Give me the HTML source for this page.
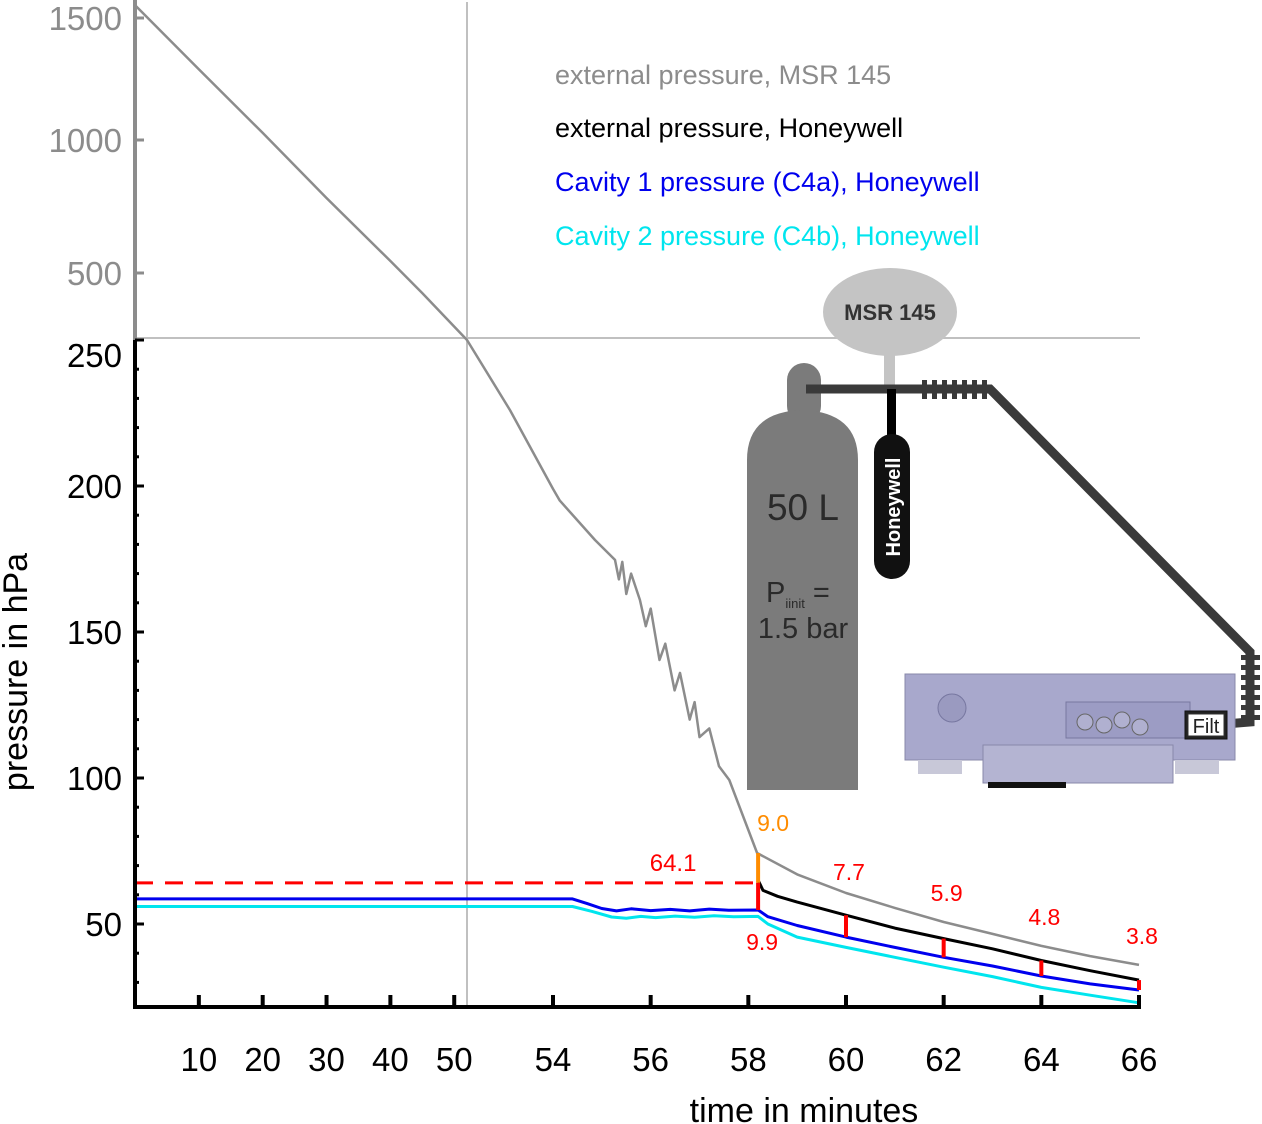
<!DOCTYPE html>
<html><head><meta charset="utf-8">
<style>
html,body{margin:0;padding:0;background:#fff;}
svg{display:block;font-family:"Liberation Sans",sans-serif;}
</style></head>
<body>
<svg id="chart" width="1262" height="1124" viewBox="0 0 1262 1124" xmlns="http://www.w3.org/2000/svg">
<g id="grid"></g>
<g id="diagram">
  <rect x="884" y="350" width="11" height="40" fill="#c4c4c4"/>
  <ellipse cx="890" cy="312" rx="67" ry="44" fill="#c4c4c4"/>
  <text x="890" y="320" font-size="22" font-weight="bold" fill="#333" text-anchor="middle">MSR 145</text>
  <rect x="787" y="363" width="34" height="60" rx="17" fill="#7b7b7b"/>
  <path d="M747,790 L747,460 Q747,412 802,410 Q858,412 858,460 L858,790 Z" fill="#7b7b7b"/>
  <text x="803" y="520" font-size="37" fill="#2a2a2a" text-anchor="middle">50 L</text>
  <text x="766" y="602" font-size="29" fill="#2a2a2a">P<tspan font-size="13" dy="6">iinit</tspan><tspan dy="-6" font-size="29"> =</tspan></text>
  <text x="803" y="638" font-size="29" fill="#2a2a2a" text-anchor="middle">1.5 bar</text>
  <path d="M806,389 L990,389 L1250,652 L1250,722 L1225,724" fill="none" stroke="#3a3a3a" stroke-width="9"/>
  <g id="serr"></g>
  <rect x="887" y="389" width="9" height="50" fill="#000"/>
  <rect x="874" y="434" width="36" height="145" rx="18" fill="#111"/>
  <text transform="translate(900,507) rotate(-90)" font-size="20" font-weight="bold" fill="#fff" text-anchor="middle">Honeywell</text>
  <g>
    <rect x="905" y="674" width="330" height="86" fill="#a8a8cc" stroke="#8888aa"/>
    <rect x="983" y="745" width="190" height="38" fill="#b4b4d2" stroke="#8888aa"/>
    <rect x="1066" y="702" width="124" height="36" fill="#9c9cc4" stroke="#7777a0"/>
    <circle cx="952" cy="708" r="14" fill="#9a9ac0" stroke="#7777a0"/>
    <circle cx="1085" cy="722" r="8" fill="#b0b0d0" stroke="#666"/><circle cx="1104" cy="725" r="8" fill="#b0b0d0" stroke="#666"/><circle cx="1122" cy="720" r="8" fill="#b0b0d0" stroke="#666"/><circle cx="1140" cy="727" r="8" fill="#b0b0d0" stroke="#666"/>
    <rect x="918" y="760" width="44" height="14" fill="#c8c8d8"/><rect x="1175" y="760" width="44" height="14" fill="#c8c8d8"/>
    <rect x="988" y="782" width="45" height="6" fill="#111"/><rect x="1028" y="782" width="38" height="6" fill="#111"/>
    <rect x="1185" y="711" width="42" height="28" fill="#222" stroke="#111"/>
    <rect x="1188" y="714" width="36" height="22" fill="#fff" stroke="#333"/>
    <text x="1206" y="733" font-size="20" fill="#222" text-anchor="middle">Filt</text>
  </g>
</g>
<g id="plot"></g>
<g id="axes"></g>
<g font-size="27">
  <text x="555" y="84" fill="#8c8c8c">external pressure, MSR 145</text>
  <text x="555" y="137" fill="#000">external pressure, Honeywell</text>
  <text x="555" y="191" fill="#0000ee">Cavity 1 pressure (C4a), Honeywell</text>
  <text x="555" y="245" fill="#00e5ee">Cavity 2 pressure (C4b), Honeywell</text>
</g>
<text transform="translate(27,672) rotate(-90)" font-size="34" text-anchor="middle">pressure in hPa</text>
<text x="804" y="1122" font-size="34" text-anchor="middle">time in minutes</text>
</svg>
<script>
// ---- data ----
const xTicks = [10,20,30,40,50,54,56,58,60,62,64,66];
const yTicksUpper = [500,1000,1500];
const yTicksLower = [50,100,150,200,250];
const msrTime = [0,10,20,30,40,45,52,53,54,54.14,54.86,55.27,55.35,55.42,55.5,55.6,55.78,55.9,56.0,56.18,56.3,56.49,56.6,56.8,56.9,57.0,57.2,57.4,57.61,58.18,59,60,61,62,63,64,65,66];
const msrValue = [1553,1290,1029,782,545,425,250,226,199,195,181.5,174.7,168,174,163,170,161,152,158,140.4,146,130,136,120,126,114,117,104,99.3,74.3,67,60.6,55.5,50.7,46.6,42.5,39,36];
const hwTime = [58.2,58.3,58.6,59,60,61,62,63,64,65,66];
const hwValue = [65,61.5,59.5,57.5,53,48.6,45,41.5,37.5,34,30.8];
const c1Time = [0,54.4,54.7,55,55.3,55.6,56,56.4,56.8,57.2,57.6,58.2,58.4,59,60,61,62,63,64,65,66];
const c1Value = [58.6,58.6,57,55.3,54.5,55.2,54.6,55,54.5,55.1,54.7,54.8,52.5,49.5,45.5,42,38.6,35.6,32.2,29.5,27.4];
const c2Time = [0,54.4,54.8,55.2,55.5,55.8,56.1,56.5,56.9,57.3,57.7,58.2,58.4,59,60,61,62,63,64,65,66];
const c2Value = [56,56,54.3,52.4,52,52.6,52.2,52.7,52.3,52.8,52.5,52.6,50,45.5,42,38.6,35.2,32,28.3,25.6,23];
const diffTime = [58.2,60,62,64,66];
const diffLabels = ["9.9","7.7","5.9","4.8","3.8"];
const refLevel = 64.1;
const orangeLabel = "9.0";

function xs(t){
  if(t<=52) return 135 + t*(332/52);
  if(t<=54) return 467 + (t-52)*43;
  return 553 + (t-54)*(586/12);
}
const uV=[250,500,1000,1500], uY=[340,273,140,18];
function ys(v){
  if(v<=250) return 924 - (v-50)*2.92;
  for(let i=0;i<3;i++){ if(v<=uV[i+1]||i==2){ return uY[i]+(v-uV[i])*(uY[i+1]-uY[i])/(uV[i+1]-uV[i]); } }
}
const NS="http://www.w3.org/2000/svg";
function mk(tag,attrs,parent){const e=document.createElementNS(NS,tag);for(const k in attrs)e.setAttribute(k,attrs[k]);parent.appendChild(e);return e;}
const plot=document.getElementById('plot'), axes=document.getElementById('axes'), grid=document.getElementById('grid');

let gl=mk('line',{x1:xs(52),x2:xs(52),y1:2,y2:1007,stroke:'#c0c0c0','stroke-width':2},grid);


gl=mk('line',{x1:135,x2:1140,y1:ys(250)-2,y2:ys(250)-2,stroke:'#c0c0c0','stroke-width':2},grid);



const serr=document.getElementById('serr');
for(let i=0;i<7;i++){mk('rect',{x:922+i*10,y:380,width:5,height:19,fill:'#3a3a3a'},serr);}
for(let i=0;i<7;i++){mk('rect',{x:1241,y:655+i*10,width:19,height:5,fill:'#3a3a3a'},serr);}

function line(ts,vs,color,w,name){
  const d=ts.map((t,i)=>(i?'L':'M')+xs(t).toFixed(1)+','+ys(vs[i]).toFixed(1)).join(' ');
  const p=mk('path',{d:d,fill:'none',stroke:color,'stroke-width':w,'stroke-linejoin':'round'},plot);
  
  
}
const rl=mk('line',{x1:135,x2:xs(58.2),y1:ys(refLevel),y2:ys(refLevel),stroke:'#ff0000','stroke-width':3,'stroke-dasharray':'18,12'},plot);


line(c2Time,c2Value,'#00e5ee',3,'series-cavity2');
line(c1Time,c1Value,'#0000ee',3,'series-cavity1');
line(msrTime,msrValue,'#8c8c8c',2.5,'series-msr145');
line(hwTime,hwValue,'#000',3,'series-honeywell-external');

const ob=mk('line',{x1:xs(58.2),x2:xs(58.2),y1:ys(74.3),y2:ys(refLevel),stroke:'#ff8c00','stroke-width':4},plot);


let ot=mk('text',{x:xs(58.2)+15,y:ys(74.3)-22,'font-size':23,fill:'#ff8c00','text-anchor':'middle'},plot);ot.textContent=orangeLabel;


let lt=mk('text',{x:xs(58.2)-85,y:ys(refLevel)-12,'font-size':24,fill:'#ff0000','text-anchor':'middle'},plot);lt.textContent=refLevel.toFixed(1);



function interp(ts,vs,t){for(let i=1;i<ts.length;i++){if(t<=ts[i]){const f=(t-ts[i-1])/(ts[i]-ts[i-1]);return vs[i-1]+f*(vs[i]-vs[i-1]);}}return vs[vs.length-1];}
diffTime.forEach((t,i)=>{
  const top = i==0 ? refLevel : interp(hwTime,hwValue,t);
  const bot = interp(c1Time,c1Value,t);
  const b=mk('line',{x1:xs(t),x2:xs(t),y1:ys(top),y2:ys(bot),stroke:'#ff0000','stroke-width':4},plot);
  
  
  const msrv=interp(msrTime,msrValue,t);
  const ty = i==0 ? ys(bot)+40 : ys(msrv)-(i==1?13:21);
  const tx = i==0 ? xs(t)+4 : xs(t)+3;
  const tl=mk('text',{x:tx,y:ty,'font-size':23,fill:'#ff0000','text-anchor':'middle'},plot);tl.textContent=diffLabels[i];
  
  
});

let a=mk('line',{x1:135,x2:135,y1:0,y2:ys(250),stroke:'#8c8c8c','stroke-width':4},axes);


a=mk('line',{x1:135,x2:135,y1:ys(250),y2:1008,stroke:'#000','stroke-width':4},axes);


a=mk('line',{x1:133,x2:1141,y1:1007,y2:1007,stroke:'#000','stroke-width':4},axes);


for(let v=30;v<=250;v+=10){
  const major=v%50==0;
  mk('line',{x1:135,x2:major?144:139,y1:ys(v),y2:ys(v),stroke:'#000','stroke-width':3},axes);
}
yTicksLower.forEach(v=>{
  const t=mk('text',{x:122,y:ys(v)+(v==250?27:12),'font-size':33,'text-anchor':'end',fill:'#000'},axes);t.textContent=v;
  
  
});
yTicksUpper.forEach(v=>{
  mk('line',{x1:135,x2:144,y1:ys(v),y2:ys(v),stroke:'#8c8c8c','stroke-width':3},axes);
  const t=mk('text',{x:122,y:ys(v)+12,'font-size':33,'text-anchor':'end',fill:'#8c8c8c'},axes);t.textContent=v;
  
  
});
xTicks.forEach(v=>{
  mk('line',{x1:xs(v),x2:xs(v),y1:1007,y2:995,stroke:'#000','stroke-width':4},axes);
  const t=mk('text',{x:xs(v),y:1071,'font-size':33,'text-anchor':'middle',fill:'#000'},axes);t.textContent=v;
  
  
});
</script>
</body></html>
